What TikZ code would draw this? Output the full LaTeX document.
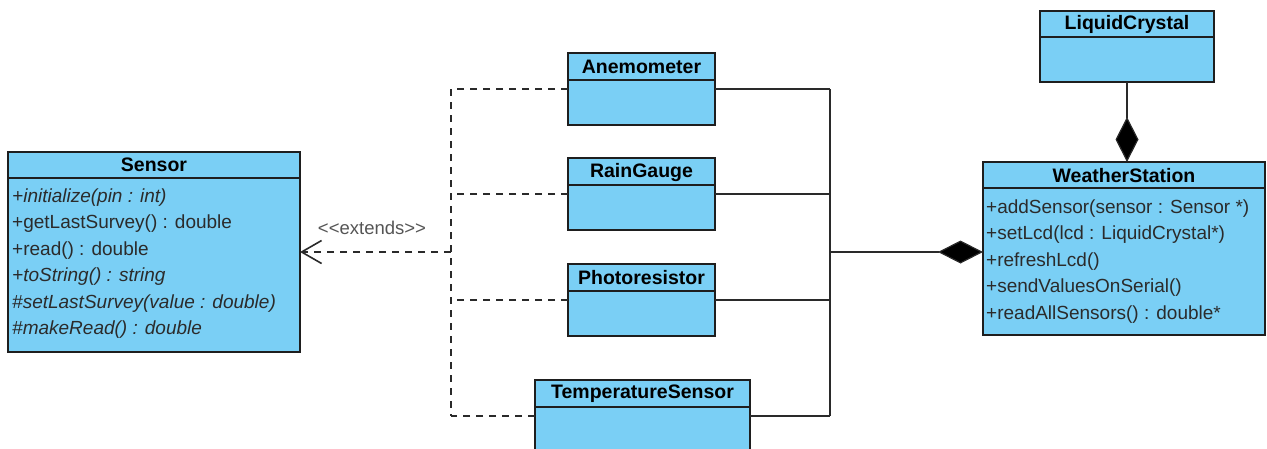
\documentclass[tikz,border=0pt]{standalone}
\usepackage{fontspec}
\setmainfont{Liberation Sans}
\usetikzlibrary{arrows.meta,calc}

\definecolor{clsfill}{HTML}{7ACFF5}
\definecolor{edge}{HTML}{1E1E1E}
\definecolor{wire}{HTML}{2A2A2A}
\definecolor{membertext}{HTML}{2B2B2B}
\definecolor{stereo}{HTML}{555555}

\begin{document}
\begin{tikzpicture}[x=1pt,y=-1pt,
  cls/.style={draw=edge, fill=clsfill, line width=1.3pt, rectangle,
    anchor=north west, inner sep=0pt, outer sep=0pt},
  headline/.style={draw=edge, line width=1.3pt},
  ctitle/.style={font=\bfseries\fontsize{19.5}{22}\selectfont, text=black, inner sep=0pt},
  member/.style={anchor=west, font=\fontsize{19}{22}\selectfont, text=membertext, inner sep=0pt},
  imember/.style={member, font=\itshape\fontsize{19}{22}\selectfont},
  wireline/.style={draw=wire, line width=1.2pt},
  dashline/.style={draw=wire, line width=1.2pt, dash pattern=on 7pt off 6pt},
  compose/.style={wireline, -{Diamond[length=45pt,width=23pt,fill=black]}},
  realize/.style={dashline, -{Straight Barb[length=20pt,width=23pt,line width=1.6pt]}},
]
\useasboundingbox (0,0) rectangle (1267,448);
\clip (0,0) rectangle (1267,448);

% ---- Sensor ----
\node[cls, minimum width=292pt, minimum height=200pt] (sensor) at (8,152) {};
\draw[headline] (8,178) -- (300,178);
\node[ctitle] (sensorT) at (154,165) {Sensor};
\node[imember] (s1) at (12,197.5) {+initialize(pin : int)};
\node[member]  (s2) at (12,224) {+getLastSurvey() : double};
\node[member]  (s3) at (12,250.5) {+read() : double};
\node[imember] (s4) at (12,277) {+toString() : string};
\node[imember] (s5) at (12,303.5) {\#setLastSurvey(value : double)};
\node[imember] (s6) at (12,330) {\#makeRead() : double};

% ---- sensor subclasses ----
\node[cls, minimum width=147pt, minimum height=72pt] (anem) at (568,53) {};
\draw[headline] (568,80) -- (715,80);
\node[ctitle] (anemT) at (641.5,67) {Anemometer};

\node[cls, minimum width=147pt, minimum height=72pt] (rain) at (568,158) {};
\draw[headline] (568,185) -- (715,185);
\node[ctitle] (rainT) at (641.5,172) {RainGauge};

\node[cls, minimum width=147pt, minimum height=72pt] (photo) at (568,264) {};
\draw[headline] (568,291) -- (715,291);
\node[ctitle] (photoT) at (641.5,278) {Photoresistor};

\node[cls, minimum width=215pt, minimum height=72pt] (temp) at (535,380) {};
\draw[headline] (535,407) -- (750,407);
\node[ctitle] (tempT) at (642.5,394) {TemperatureSensor};

% ---- LiquidCrystal ----
\node[cls, minimum width=174pt, minimum height=71pt] (lcd) at (1040,11) {};
\draw[headline] (1040,37) -- (1214,37);
\node[ctitle] (lcdT) at (1127,24.5) {LiquidCrystal};

% ---- WeatherStation ----
\node[cls, minimum width=282pt, minimum height=173pt] (ws) at (983,162) {};
\draw[headline] (983,188) -- (1265,188);
\node[ctitle] (wsT) at (1124,175.5) {WeatherStation};
\node[member] (w1) at (986,208.5) {+addSensor(sensor : Sensor *)};
\node[member] (w2) at (986,235) {+setLcd(lcd : LiquidCrystal*)};
\node[member] (w3) at (986,261.5) {+refreshLcd()};
\node[member] (w4) at (986,288) {+sendValuesOnSerial()};
\node[member] (w5) at (986,314.5) {+readAllSensors() : double*};

% ---- composition of sensors into the station ----
\coordinate (bus) at (830,252);
\draw[wireline] (anem.east) -- (anem.east -| bus);
\draw[wireline] (rain.east) -- (rain.east -| bus);
\draw[wireline] (photo.east) -- (photo.east -| bus);
\draw[wireline] (temp.east) -- (temp.east -| bus);
\draw[wireline] (anem.east -| bus) -- (temp.east -| bus);
\draw[compose] (bus) -- (bus -| ws.west);

% ---- display composed into the station ----
\draw[compose] (lcd.south) -- (lcd.south |- ws.north);

% ---- generalisation towards Sensor ----
\coordinate (gen) at (451,252);
\draw[dashline] (anem.west) -- (anem.west -| gen);
\draw[dashline] (rain.west) -- (rain.west -| gen);
\draw[dashline] (photo.west) -- (photo.west -| gen);
\draw[dashline] (temp.west) -- (temp.west -| gen);
\draw[dashline] (anem.west -| gen) -- (temp.west -| gen);
\draw[realize] (gen) -- (gen -| sensor.east);
\node[font=\fontsize{18.5}{21}\selectfont, text=stereo, inner sep=0pt] (ext) at (372,228) {{<}{<}extends{>}{>}};

\end{tikzpicture}
\end{document}
